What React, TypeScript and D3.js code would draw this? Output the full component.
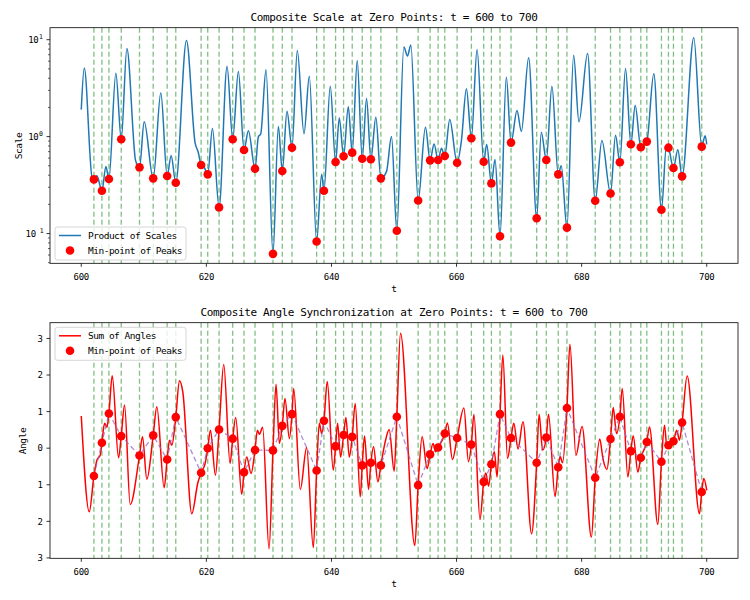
import React from 'react';
import * as d3 from 'd3';

// zero points (green dashed lines), shared by both panels
const zeroT = [
  602.02, 603.30, 604.42, 606.39, 609.31, 611.50, 613.73, 615.11, 619.16, 620.22,
  622.03, 624.21, 626.02, 627.78, 630.65, 632.14, 633.69, 637.63, 638.80, 640.66,
  641.94, 643.32, 644.92, 646.30, 647.90, 650.45, 653.86, 655.77, 657.05, 658.12,
  660.09, 662.37, 664.34, 665.57, 666.95, 668.71, 672.81, 674.35, 676.26, 677.65,
  682.17, 684.62, 686.11, 687.87, 689.46, 690.42, 692.76, 693.88, 694.68, 696.06,
  699.20,
];

// min-point of peaks on the scale product
const scaleMin = [
  0.362, 0.276, 0.365, 0.94, 0.482, 0.371, 0.392, 0.334, 0.509, 0.408,
  0.186, 0.94, 0.728, 0.467, 0.0617, 0.441, 0.769, 0.0827, 0.276, 0.547,
  0.626, 0.683, 0.592, 0.583, 0.371, 0.107, 0.219, 0.569, 0.573, 0.631,
  0.538, 0.961, 0.551, 0.329, 0.0938, 0.867, 0.144, 0.573, 0.408, 0.115,
  0.218, 0.259, 0.543, 0.833, 0.776, 0.888, 0.176, 0.769, 0.474, 0.389,
  0.788,
];

// min-point of peaks on the angle sum
const angleMin = [
  -0.76, 0.15, 0.95, 0.33, -0.2, 0.35, -0.31, 0.85, -0.67, 0.0,
  0.51, 0.26, -0.66, -0.05, -0.06, 0.61, 0.93, -0.61, 0.75, 0.05,
  0.36, 0.31, -0.47, -0.40, -0.47, 0.86, -1.01, -0.17, 0.02, 0.40,
  0.28, 0.10, -0.92, -0.44, 0.93, 0.28, -0.40, 0.29, -0.52, 1.10,
  -0.81, 0.25, 0.86, -0.08, -0.26, 0.17, -0.37, 0.08, 0.19, 0.70,
  -1.20,
];

// product of scales curve, read at its turning points
const scaleT = [
  600.00, 600.48, 601.75, 602.02, 602.50, 603.30, 603.94, 604.42, 605.53, 606.39,
  607.29, 608.70, 609.31, 610.06, 611.50, 612.72, 613.73, 614.37, 615.11, 616.82,
  618.20, 618.70, 619.16, 619.70, 620.22, 620.97, 622.03, 623.31, 624.21, 625.12,
  626.02, 626.72, 627.78, 628.32, 628.69, 629.54, 630.65, 631.51, 632.14, 632.89,
  633.69, 634.54, 635.61, 636.46, 637.63, 638.43, 638.80, 639.81, 640.66, 641.25,
  641.94, 642.69, 643.32, 644.12, 644.92, 645.61, 646.30, 647.10, 647.90, 648.81,
  649.60, 650.45, 651.57, 652.16, 652.69, 653.86, 655.03, 655.77, 656.41, 657.05,
  657.58, 658.12, 658.91, 660.09, 660.78, 661.58, 662.37, 663.28, 664.34, 664.82,
  665.57, 666.15, 666.95, 667.96, 668.71, 669.67, 670.36, 671.53, 672.81, 673.55,
  674.35, 675.25, 676.26, 676.74, 677.65, 678.72, 679.57, 680.95, 682.17, 683.24,
  684.62, 685.42, 686.11, 687.02, 687.87, 688.56, 689.46, 690.42, 691.54, 692.76,
  693.55, 693.88, 694.68, 695.38, 696.06, 697.93, 699.20, 699.74, 700.00,
];
const scaleV = [
  1.9, 5.1, 0.37, 0.362, 0.395, 0.276, 0.493, 0.365, 4.5, 0.94,
  8.1, 0.56, 0.482, 1.42, 0.371, 2.83, 0.392, 0.64, 0.334, 9.8,
  0.86, 0.69, 0.509, 0.474, 0.408, 1.21, 0.186, 5.3, 0.94, 4.7,
  0.728, 1.15, 0.467, 1.0, 1.066, 4.9, 0.0617, 1.27, 0.441, 1.83,
  0.769, 7.76, 1.07, 4.2, 0.0827, 0.41, 0.276, 3.3, 0.547, 1.56,
  0.626, 2.03, 0.683, 6.1, 0.592, 2.47, 0.583, 1.58, 0.371, 0.438,
  1.0, 0.107, 8.4, 6.8, 8.8, 0.219, 1.25, 0.569, 0.84, 0.573,
  0.76, 0.631, 1.5, 0.538, 0.91, 3.11, 0.961, 7.94, 0.551, 0.83,
  0.329, 0.58, 0.0938, 4.1, 0.867, 1.86, 1.13, 6.5, 0.144, 1.11,
  0.573, 3.3, 0.408, 0.50, 0.115, 6.9, 1.42, 7.2, 0.218, 0.91,
  0.259, 1.03, 0.543, 5.05, 0.833, 2.1, 0.776, 0.888, 4.45, 0.176,
  0.80, 0.769, 0.474, 0.73, 0.389, 10.5, 0.788, 1.02, 0.83,
];

// sum of angles curve, read at its turning points
const angleT = [
  600.00, 601.28, 602.02, 602.50, 603.03, 603.30, 603.73, 604.10, 604.42, 604.95,
  605.96, 606.39, 606.92, 607.82, 609.31, 609.79, 610.48, 611.50, 612.08, 613.25,
  613.73, 614.10, 614.48, 615.11, 615.70, 616.23, 617.67, 618.63, 619.16, 619.80,
  620.22, 620.65, 621.45, 622.03, 622.78, 623.79, 624.21, 624.69, 625.65, 626.02,
  626.45, 627.15, 627.78, 628.16, 628.48, 629.00, 630.02, 630.65, 631.14, 631.67,
  632.14, 632.57, 633.27, 633.69, 633.96, 635.02, 636.03, 637.10, 637.63, 638.06,
  638.43, 638.80, 639.33, 640.29, 640.66, 640.98, 641.46, 641.94, 642.31, 642.85,
  643.32, 643.80, 644.60, 644.92, 645.29, 645.93, 646.30, 646.73, 647.42, 647.90,
  648.54, 649.23, 650.03, 650.45, 651.04, 653.33, 653.86, 654.50, 655.30, 655.77,
  656.25, 656.63, 657.05, 658.12, 658.54, 659.35, 660.09, 661.18, 661.90, 662.37,
  662.78, 663.75, 664.34, 664.68, 665.12, 665.57, 666.05, 666.48, 666.95, 667.40,
  668.15, 668.71, 669.15, 669.83, 670.62, 672.00, 672.81, 673.20, 673.76, 674.35,
  674.70, 675.75, 676.26, 676.58, 676.95, 677.65, 678.13, 679.08, 680.07, 681.56,
  682.17, 682.90, 683.40, 684.04, 684.62, 685.05, 685.58, 686.11, 686.49, 687.39,
  687.87, 688.24, 688.99, 689.46, 690.42, 690.85, 692.18, 692.76, 693.25, 693.62,
  693.88, 694.68, 695.20, 695.64, 696.06, 696.87, 698.84, 699.20, 699.53, 700.00,
];
const angleV = [
  0.88, -1.74, -0.76, -0.33, -0.19, 0.15, 0.68, 0.57, 0.95, 1.98,
  -0.26, 0.33, 1.18, -1.54, -0.20, 0.31, -0.85, 0.35, 1.13, -1.08,
  -0.31, 0.22, 0.08, 0.85, 1.84, 1.54, -1.79, -0.95, -0.67, -0.42,
  0.00, 0.49, -0.74, 0.51, 2.29, -0.42, 0.26, 0.84, -1.26, -0.66,
  -0.24, -0.69, -0.05, 0.49, 0.38, 0.57, -2.75, -0.06, 1.75, 0.13,
  0.61, 1.36, 0.26, 0.93, 1.63, -1.13, 0.02, -2.72, -0.61, 0.68,
  0.40, 0.75, 1.82, -0.60, 0.05, 0.68, -0.24, 0.36, 0.84, -0.24,
  0.31, 1.22, -1.33, -0.47, 0.33, -1.13, -0.40, 0.04, -0.92, -0.47,
  0.13, 0.51, -0.63, 0.86, 3.14, -2.66, -1.01, 0.31, -0.56, -0.17,
  0.13, -0.10, 0.02, 0.40, 0.69, -0.31, 0.28, 1.10, -0.37, 0.10,
  0.92, -1.95, -0.92, -0.68, -1.04, -0.44, -0.10, -0.79, 0.93, 2.55,
  -0.28, 0.28, 0.68, -0.02, 0.72, -2.34, -0.40, 0.93, -0.05, 0.29,
  0.93, -1.32, -0.52, -0.23, -0.40, 1.10, 2.84, -0.20, 0.59, -2.43,
  -0.81, 0.25, -0.28, -0.58, 0.25, 1.11, 0.40, 0.86, 1.63, -0.79,
  -0.08, 0.34, -0.65, -0.26, 0.17, 0.58, -2.08, -0.37, 0.63, 0.04,
  0.08, 0.19, 0.49, 0.22, 0.70, 1.97, -1.79, -1.20, -0.83, -1.15,
];

const xTicks = [600, 620, 640, 660, 680, 700];
const scaleDecades = [-1, 0, 1];
const angleTicks = [-3, -2, -1, 0, 1, 2, 3];

const FONT = '"DejaVu Sans Mono", monospace';
const L = 50, R = 738;
const top1 = 27.7, bot1 = 263.3;
const top2 = 322.7, bot2 = 558.3;

export default function App() {
  const x = d3.scaleLinear().domain([595, 705]).range([L, R]);
  const yS = d3.scaleLog().domain([0.0493, 13.3]).range([bot1, top1]);
  const yA = d3.scaleLinear().domain([-3.01, 3.43]).range([bot2, top2]);

  const scalePath = d3.line<number>()
    .x((_, i) => x(scaleT[i]))
    .y((d) => yS(d))
    .curve(d3.curveMonotoneX)(scaleV) || '';
  const anglePath = d3.line<number>()
    .x((_, i) => x(angleT[i]))
    .y((d) => yA(d))
    .curve(d3.curveMonotoneX)(angleV) || '';
  const minLink = d3.line<number>()
    .x((_, i) => x(zeroT[i]))
    .y((d) => yA(d))(angleMin) || '';

  const minor: number[] = [];
  for (let e = -2; e <= 1; e++) {
    for (let k = 2; k <= 9; k++) {
      const v = k * Math.pow(10, e);
      if (v >= 0.0493 && v <= 13.3) minor.push(v);
    }
  }

  const zeroLines = (y0: number, y1: number) =>
    zeroT.map((t, i) => (
      <line key={i} x1={x(t)} x2={x(t)} y1={y0} y2={y1}
        stroke="#008000" strokeOpacity={0.5} strokeWidth={1.3} strokeDasharray="5,3" />
    ));

  const xAxis = (yb: number) => (
    <g>
      {xTicks.map((t) => (
        <g key={t}>
          <line x1={x(t)} x2={x(t)} y1={yb} y2={yb + 3.5} stroke="#000" strokeWidth={0.8} />
          <text x={x(t)} y={yb + 16.5} textAnchor="middle" fontSize={9} letterSpacing={-0.3}>{t}</text>
        </g>
      ))}
    </g>
  );

  const legend = (x0: number, y0: number, label: string, color: string) => (
    <g>
      <rect x={x0} y={y0} width={131} height={33} rx={2.5} fill="#fff" fillOpacity={0.8}
        stroke="#cccccc" strokeWidth={0.8} />
      <line x1={x0 + 4} x2={x0 + 26} y1={y0 + 8.5} y2={y0 + 8.5} stroke={color} strokeWidth={1.5} />
      <text x={x0 + 33} y={y0 + 11.8} fontSize={9.5} letterSpacing={-0.5}>{label}</text>
      <circle cx={x0 + 15} cy={y0 + 23.5} r={4.3} fill="red" />
      <text x={x0 + 33} y={y0 + 26.8} fontSize={9.5} letterSpacing={-0.5}>Min-point of Peaks</text>
    </g>
  );

  return (
    <svg width={750} height={600} style={{ position: 'absolute', left: 0, top: 0, background: '#fff' }}
      fontFamily={FONT} fill="#000">
      {/* top panel: product of scales */}
      <defs>
        <clipPath id="c1"><rect x={L} y={top1} width={R - L} height={bot1 - top1} /></clipPath>
        <clipPath id="c2"><rect x={L} y={top2} width={R - L} height={bot2 - top2} /></clipPath>
      </defs>
      <text x={(L + R) / 2} y={21} textAnchor="middle" fontSize={11} letterSpacing={-0.38}>
        Composite Scale at Zero Points: t = 600 to 700
      </text>
      <g clipPath="url(#c1)">
        {zeroLines(top1, bot1)}
        <path d={scalePath} fill="none" stroke="#1f77b4" strokeWidth={1.5} />
        {zeroT.map((t, i) => (
          <circle key={i} cx={x(t)} cy={yS(scaleMin[i])} r={4.3} fill="red" />
        ))}
      </g>
      <rect x={L} y={top1} width={R - L} height={bot1 - top1} fill="none" stroke="#000" strokeWidth={0.8} />
      {xAxis(bot1)}
      {minor.map((v) => (
        <line key={v} x1={L - 2} x2={L} y1={yS(v)} y2={yS(v)} stroke="#000" strokeWidth={0.6} />
      ))}
      {scaleDecades.map((d) => (
        <g key={d}>
          <line x1={L - 3.5} x2={L} y1={yS(Math.pow(10, d))} y2={yS(Math.pow(10, d))} stroke="#000" strokeWidth={0.8} />
          <text x={d < 0 ? 35.8 : 38.5} y={yS(Math.pow(10, d)) + 3.5} textAnchor="end" fontSize={9} letterSpacing={-0.3}>10</text>
          <text x={d < 0 ? 39.8 : 38.9} y={yS(Math.pow(10, d)) - 0.5} fontSize={6.5}>{Math.abs(d)}</text>
        </g>
      ))}
      <text transform={`translate(21.5,146) rotate(-90)`} textAnchor="middle" fontSize={9.5} letterSpacing={-0.4}>Scale</text>
      <text x={(L + R) / 2} y={292} textAnchor="middle" fontSize={9.5}>t</text>
      {legend(55, 227, 'Product of Scales', '#1f77b4')}

      {/* bottom panel: sum of angles */}
      <text x={(L + R) / 2} y={315.5} textAnchor="middle" fontSize={11} letterSpacing={-0.38}>
        Composite Angle Synchronization at Zero Points: t = 600 to 700
      </text>
      <g clipPath="url(#c2)">
        {zeroLines(top2, bot2)}
        <path d={anglePath} fill="none" stroke="red" strokeWidth={1.5} />
        <path d={minLink} fill="none" stroke="#9467bd" strokeOpacity={0.75} strokeWidth={1.3} strokeDasharray="5,3" />
        {zeroT.map((t, i) => (
          <circle key={i} cx={x(t)} cy={yA(angleMin[i])} r={4.3} fill="red" />
        ))}
      </g>
      <rect x={L} y={top2} width={R - L} height={bot2 - top2} fill="none" stroke="#000" strokeWidth={0.8} />
      {xAxis(bot2)}
      {angleTicks.map((v) => (
        <g key={v}>
          <line x1={L - 3.5} x2={L} y1={yA(v)} y2={yA(v)} stroke="#000" strokeWidth={0.8} />
          <text x={43} y={yA(v) + 3.3} textAnchor="end" fontSize={9}>{Math.abs(v)}</text>
        </g>
      ))}
      <text transform={`translate(26,441) rotate(-90)`} textAnchor="middle" fontSize={9.5} letterSpacing={-0.4}>Angle</text>
      <text x={(L + R) / 2} y={587} textAnchor="middle" fontSize={9.5}>t</text>
      {legend(55, 327.3, 'Sum of Angles', 'red')}
    </svg>
  );
}
